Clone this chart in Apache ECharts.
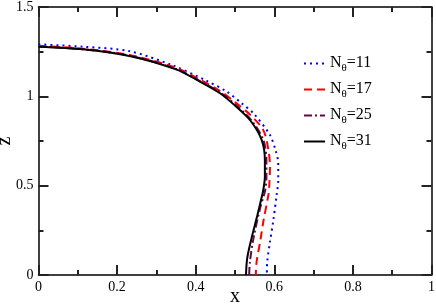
<!DOCTYPE html>
<html>
<head>
<meta charset="utf-8">
<script src="https://cdn.jsdelivr.net/npm/echarts@6/dist/echarts.min.js"></script>
<style>html,body{margin:0;padding:0;background:#fff;}#c{width:436px;height:306px;}</style>
</head>
<body>
<div id="c"></div>
<script>
// Data
var seriesNames = ['Nθ=11', 'Nθ=17', 'Nθ=25', 'Nθ=31'];
var xTicks = [0, 0.2, 0.4, 0.6, 0.8, 1];
var zTicks = [0, 0.5, 1, 1.5];

var x11 = [0, 0.112, 0.231, 0.339, 0.424, 0.479, 0.517, 0.549, 0.589, 0.603, 0.610, 0.610, 0.606, 0.597, 0.589, 0.582, 0.581];
var z11 = [1.291, 1.278, 1.253, 1.175, 1.091, 1.026, 0.961, 0.900, 0.783, 0.700, 0.625, 0.532, 0.448, 0.298, 0.186, 0.074, 0];

var x17 = [0, 0.112, 0.231, 0.350, 0.411, 0.462, 0.500, 0.538, 0.572, 0.585, 0.589, 0.587, 0.585, 0.572, 0.564, 0.555, 0.553];
var z17 = [1.282, 1.267, 1.232, 1.160, 1.093, 1.030, 0.968, 0.898, 0.811, 0.700, 0.606, 0.494, 0.448, 0.298, 0.186, 0.074, 0];

var x25 = [0, 0.112, 0.231, 0.350, 0.412, 0.464, 0.503, 0.542, 0.572, 0.580, 0.580, 0.577, 0.564, 0.547, 0.538, 0.536];
var z25 = [1.279, 1.264, 1.228, 1.153, 1.084, 1.019, 0.950, 0.865, 0.757, 0.645, 0.550, 0.476, 0.375, 0.205, 0.074, 0];

var x31 = [0, 0.112, 0.231, 0.350, 0.411, 0.462, 0.500, 0.540, 0.568, 0.576, 0.576, 0.572, 0.568, 0.555, 0.542, 0.531, 0.528];
var z31 = [1.278, 1.263, 1.226, 1.151, 1.082, 1.017, 0.948, 0.862, 0.755, 0.644, 0.550, 0.476, 0.436, 0.317, 0.205, 0.093, 0];

function pairs(xs, zs) { return xs.map(function (v, i) { return [v, zs[i]]; }); }

var font = '"Liberation Serif", "DejaVu Serif", serif';
var chart = echarts.init(document.getElementById('c'), null, { renderer: 'canvas' });

function xAx(pos, labels) {
  return {
    type: 'value', position: pos, min: 0, max: 1, interval: 0.2,
    name: labels ? 'x' : '', nameLocation: 'middle', nameGap: 12, nameMoveOverlap: false,
    nameTextStyle: { fontFamily: font, fontSize: 20, color: '#000' },
    axisLine: { show: true, onZero: false, lineStyle: { color: '#000', width: 1.5 } },
    axisTick: { show: true, inside: true, length: 10, lineStyle: { color: '#222', width: 2 } },
    minorTick: { show: true, splitNumber: 2, length: 5, lineStyle: { color: '#222', width: 2 } },
    axisLabel: { show: labels, fontFamily: font, fontSize: 14, color: '#000', margin: 5,
      formatter: function (v) { return xTicks.indexOf(Math.round(v * 10) / 10) >= 0 ? String(Math.round(v * 10) / 10) : ''; } },
    splitLine: { show: false }, minorSplitLine: { show: false }
  };
}
function yAx(pos, labels) {
  return {
    type: 'value', position: pos, min: 0, max: 1.5, interval: 0.5,
    name: labels ? 'z' : '', nameLocation: 'middle', nameGap: 24, nameRotate: 90, nameMoveOverlap: false,
    nameTextStyle: { fontFamily: font, fontSize: 20, color: '#000' },
    axisLine: { show: true, onZero: false, lineStyle: { color: '#000', width: 1.5 } },
    axisTick: { show: true, inside: true, length: 10, lineStyle: { color: '#222', width: 2 } },
    minorTick: { show: true, splitNumber: 2, length: 5, lineStyle: { color: '#222', width: 2 } },
    axisLabel: { show: labels, fontFamily: font, fontSize: 14, color: '#000', margin: 5,
      formatter: function (v) { return zTicks.indexOf(v) >= 0 ? String(v) : ''; } },
    splitLine: { show: false }, minorSplitLine: { show: false }
  };
}

var styles = [
  { color: '#0000ff', type: [2, 4], width: 2 },
  { color: '#ff0000', type: [8, 5], width: 2 },
  { color: '#670748', type: [8, 3, 2, 3], width: 2 },
  { color: '#000000', type: 'solid', width: 2 }
];
var datas = [pairs(x11, z11), pairs(x17, z17), pairs(x25, z25), pairs(x31, z31)];

chart.setOption({
  animation: false,
  backgroundColor: '#fff',
  grid: { left: 38.5, right: 4.5, top: 7, bottom: 31, containLabel: false, outerBoundsMode: 'none' },
  xAxis: [xAx('bottom', true), xAx('top', false)],
  yAxis: [yAx('left', true), yAx('right', false)],
  legend: {
    orient: 'vertical', left: 298, top: 50, itemWidth: 21, itemHeight: 10, itemGap: 7,
    data: seriesNames,
    itemStyle: { opacity: 0, borderWidth: 0 },
    formatter: function (n) { return '{n|N}{s|θ}{n|' + n.slice(2) + '}'; },
    textStyle: {
      fontFamily: font, color: '#000',
      rich: {
        n: { fontFamily: font, fontSize: 16, color: '#000', lineHeight: 17, verticalAlign: 'top' },
        s: { fontFamily: font, fontSize: 11, color: '#000', lineHeight: 12, padding: [8, 0, 0, 0], verticalAlign: 'top' }
      }
    }
  },
  series: seriesNames.map(function (nm, i) {
    return {
      name: nm, type: 'line', xAxisIndex: 0, yAxisIndex: 0,
      data: datas[i], smooth: 0.3, symbol: 'none', showSymbol: false,
      lineStyle: styles[i], itemStyle: { color: styles[i].color }, z: 2 + i
    };
  })
});
</script>
</body>
</html>
